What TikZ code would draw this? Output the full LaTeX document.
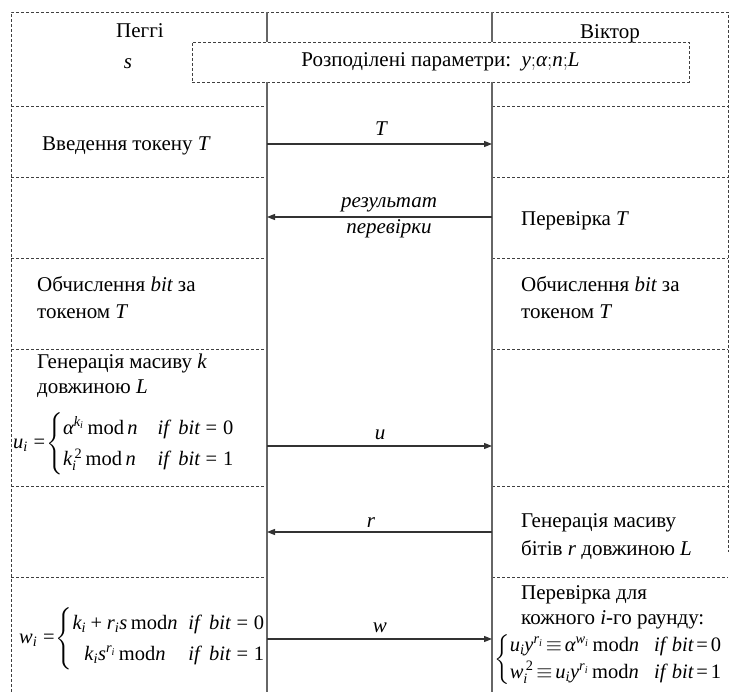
\documentclass[tikz,border=0pt]{standalone}
\usepackage{amsmath}
\usepackage{fontspec}
\setmainfont{Liberation Serif}
\usetikzlibrary{arrows.meta}
\DeclareSymbolFont{tletters}{TU}{\rmdefault}{m}{it}
\DeclareSymbolFont{tupright}{TU}{\rmdefault}{m}{n}
\makeatletter
\AtBeginDocument{%
\count@=`a
\loop\Umathcode\count@="7 \symtletters\count@
\ifnum\count@<`z \advance\count@\@ne\repeat
\count@=`A
\loop\Umathcode\count@="7 \symtletters\count@
\ifnum\count@<`Z \advance\count@\@ne\repeat
\count@=`0
\loop\Umathcode\count@="0 \symtupright\count@
\ifnum\count@<`9 \advance\count@\@ne\repeat
\Umathcode`=="3 \symtupright `=
\Umathcode`+="2 \symtupright `+
\Umathchardef\alpha="7 \symtletters "3B1
}
\makeatother
\newcommand{\md}{\text{mod}}
\newcommand{\fs}{\fontsize{21}{27}\selectfont}
\newcommand{\tightermath}{\thickmuskip 2.5mu\medmuskip 2.5mu\relax}
\begin{document}
\begin{tikzpicture}[x=1pt,y=-1pt,
  dsh/.style={draw=black!75, line width=0.8pt, dash pattern=on 3pt off 2pt},
  life/.style={draw=black!60, line width=1.3pt},
  msg/.style={draw=black!80, line width=1.2pt, -{Triangle[length=8pt,width=6pt]}},
  txt/.style={inner sep=0pt, anchor=north west, align=left, font=\fs},
  one/.style={inner sep=0pt, anchor=base, font=\fs},
  onew/.style={inner sep=0pt, anchor=base west, font=\fs},
  frm/.style={inner sep=0pt, anchor=west, font=\fontsize{20.5}{27}\selectfont}]
\useasboundingbox (0,0) rectangle (732,692);
% frame and row separators
\draw[dsh] (11,692) -- (11,12) -- (728,12) -- (728,552);
\foreach \yy in {106,177,258,349,486,577}{
  \draw[dsh] (11,\yy) -- (267,\yy);
  \draw[dsh] (492,\yy) -- (728,\yy);
}
% shared parameters
\node[dsh, minimum width=497pt, minimum height=40pt, inner sep=0pt, font=\fs] (par) at (440.5,62) {Розподілені параметри:\ \ $y{;}\alpha{;}n{;}L$};
% lifelines
\coordinate (ltop) at (267,12); \coordinate (lbot) at (267,692);
\coordinate (rtop) at (492,12); \coordinate (rbot) at (492,692);
\draw[life] (ltop) -- (par.north -| ltop);
\draw[life] (par.south -| ltop) -- (lbot);
\draw[life] (rtop) -- (par.north -| rtop);
\draw[life] (par.south -| rtop) -- (rbot);
% headers
\node[one] (peggy) at (140,38) {Пеггі};
\node[one] (s) at (128,69) {$s$};
\node[one] (victor) at (610,39) {Віктор};
% rows, left
\node[onew] (tok) at (42,151) {Введення токену $T$};
\node[txt] (bitl) at (37,276.5) {Обчислення $bit$ за\\токеном $T$};
\node[txt, font=\fontsize{21}{25}\selectfont] (genk) at (37,354) {Генерація масиву $k$\\довжиною $L$};
\node[frm] (uform) at (13,443.5) {$u_i=\mkern-4mu\left\{\renewcommand{\arraystretch}{1.17}\begin{array}{@{}l@{\hspace{20pt}}l@{}}
  \alpha^{k_i}\,\md\,n & if\;\, bit=0\\
  k_i^{\,2}\,\md\,n & if\;\, bit=1
  \end{array}\right.$};
\node[frm] (wform) at (19,638.5) {$w_i=\mkern-4mu\left\{\renewcommand{\arraystretch}{1.16}\begin{array}{@{}c@{\hspace{11pt}}l@{}}
  k_i+r_i s\,\md n & if\;\, bit=0\\
  k_i s^{r_i}\,\md n & if\;\, bit=1
  \end{array}\right.$};
% rows, right
\node[onew] (chk) at (521,226) {Перевірка $T$};
\node[txt] (bitr) at (521,276.5) {Обчислення $bit$ за\\токеном $T$};
\node[txt, font=\fontsize{21}{28}\selectfont] (genr) at (521,513.5) {Генерація масиву\\бітів $r$ довжиною $L$};
\node[txt, font=\fontsize{21}{25}\selectfont] (ver) at (521,585.5) {Перевірка для\\кожного $i$-го раунду:};
\node[frm, font=\fontsize{20.5}{27}\selectfont\tightermath] (vform) at (494,659.5) {$\left\{\renewcommand{\arraystretch}{1.0}\begin{array}{@{}l@{\hspace{15pt}}l@{}}
  u_i y^{r_i}\equiv\alpha^{w_i}\,\md n & if\;\, bit=0\\
  w_i^{\,2}\equiv u_i y^{r_i}\,\md n & if\;\, bit=1
  \end{array}\right.$};
% messages
\coordinate (aTl) at (267,144); \coordinate (aTr) at (492,144);
\draw[msg] (aTl) -- (aTr);
\node[one] (lT) at (381,136) {$T$};
\coordinate (aRl) at (267,217); \coordinate (aRr) at (492,217);
\draw[msg] (aRr) -- (aRl);
\node[inner sep=0pt, align=center, font=\fontsize{21}{26}\selectfont\itshape] (lR) at (389,218) {результат\\перевірки};
\coordinate (aUl) at (267,446); \coordinate (aUr) at (492,446);
\draw[msg] (aUl) -- (aUr);
\node[one] (lU) at (380,440) {$u$};
\coordinate (aWl) at (267,532); \coordinate (aWr) at (492,532);
\draw[msg] (aWr) -- (aWl);
\node[one] (lr) at (371,528) {$r$};
\coordinate (aVl) at (267,639); \coordinate (aVr) at (492,639);
\draw[msg] (aVl) -- (aVr);
\node[one] (lw) at (380,633) {$w$};
\end{tikzpicture}
\end{document}
